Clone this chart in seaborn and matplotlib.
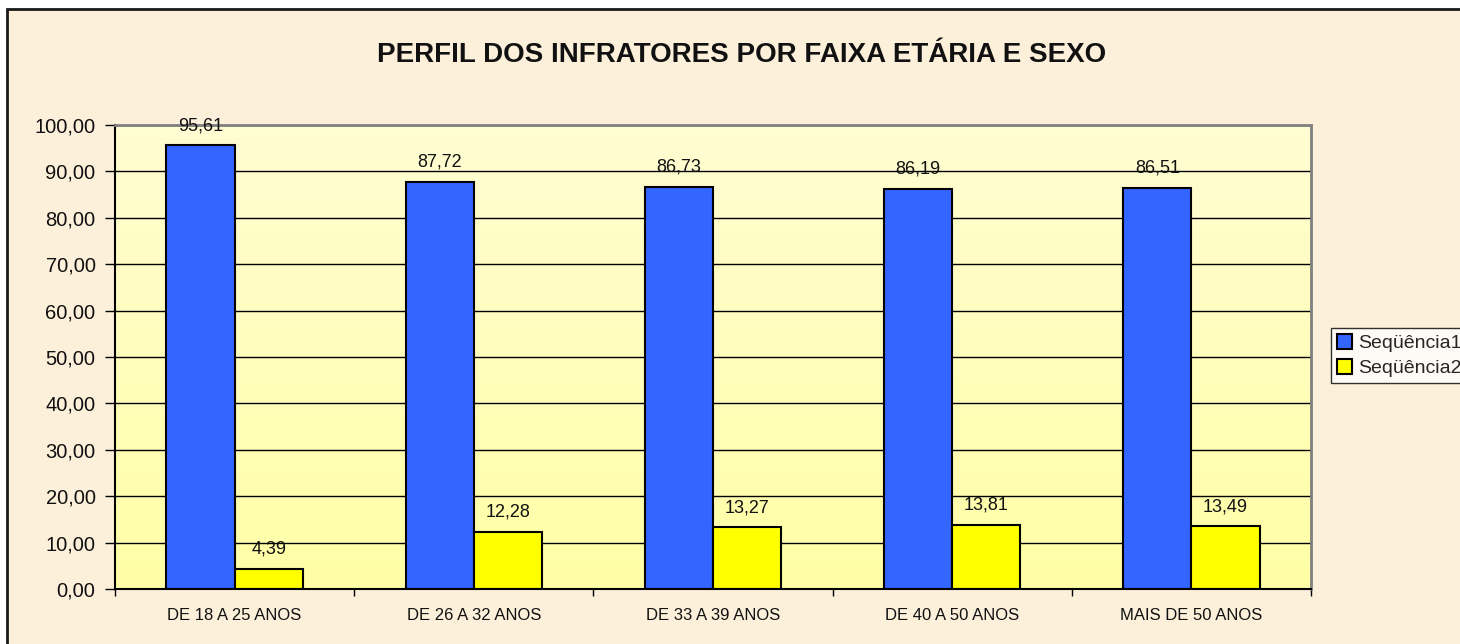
import numpy as np
import pandas as pd
import matplotlib
matplotlib.use('Agg')
import matplotlib.pyplot as plt
import seaborn as sns
from matplotlib.patches import Patch, Rectangle
from matplotlib.colors import LinearSegmentedColormap
from matplotlib.ticker import FuncFormatter, FixedLocator

# Dados do gráfico
faixas = ['DE 18 A 25 ANOS', 'DE 26 A 32 ANOS', 'DE 33 A 39 ANOS', 'DE 40 A 50 ANOS', 'MAIS DE 50 ANOS']
seq1 = [95.61, 87.72, 86.73, 86.19, 86.51]
seq2 = [4.39, 12.28, 13.27, 13.81, 13.49]
series = ['Seqüência1', 'Seqüência2']
cores = ['#3366FF', '#FFFF00']

df = pd.DataFrame({
    'faixa': faixas * 2,
    'valor': seq1 + seq2,
    'serie': [series[0]] * len(faixas) + [series[1]] * len(faixas),
})

def virgula(v, pos=None):
    return f'{v:.2f}'.replace('.', ',')

sns.set_style('white')
plt.rcParams['font.family'] = ['Liberation Sans', 'DejaVu Sans']

W, H = 1460, 644
fig = plt.figure(figsize=(W / 100, H / 100), dpi=100, facecolor='white')

# Fundo da área do gráfico com moldura
fig.patches.append(Rectangle((7 / W, -0.01), 1.0, 1 - 9 / H + 0.01, transform=fig.transFigure,
                             facecolor='#FCF0DA', edgecolor='#1a1a1a', linewidth=2, zorder=-5))

ax = fig.add_axes([115 / W, 1 - 589 / H, 1196 / W, 464 / H])

sns.barplot(data=df, x='faixa', y='valor', hue='serie', palette=cores, saturation=1,
            edgecolor='black', linewidth=1.5, width=0.57, errorbar=None,
            legend=False, ax=ax)

# Gradiente da área de plotagem
grad = LinearSegmentedColormap.from_list('amarelo', ['#FFFFA6', '#FFFDD2'])
ax.imshow(np.linspace(0, 1, 200).reshape(-1, 1), extent=(-0.5, 4.5, 0, 100),
          aspect='auto', cmap=grad, origin='lower', zorder=0)
ax.set_xlim(-0.5, 4.5)
ax.set_ylim(0, 100)

# Rótulos de valores
for cont, vals in zip(ax.containers, [seq1, seq2]):
    ax.bar_label(cont, labels=[virgula(v) for v in vals], padding=8, fontsize=13, color='#111111')

# Eixos
ax.set_yticks(np.arange(0, 101, 10))
ax.yaxis.set_major_formatter(FuncFormatter(virgula))
ax.yaxis.grid(True, color='black', linewidth=1)
ax.set_axisbelow(True)
ax.tick_params(axis='y', which='major', direction='out', length=7, width=1, pad=7,
               labelsize=14.5, left=True, colors='black', labelcolor='#111111')
ax.tick_params(axis='x', which='major', length=0, pad=14, labelsize=12, labelcolor='#111111')
ax.xaxis.set_minor_locator(FixedLocator(np.arange(-0.5, 5, 1)))
ax.tick_params(axis='x', which='minor', direction='out', length=5, width=1, bottom=True, colors='black')
ax.set_xlabel('')
ax.set_ylabel('')

for lado in ['left', 'bottom']:
    ax.spines[lado].set_color('black')
    ax.spines[lado].set_linewidth(1.5)
for lado in ['top', 'right']:
    ax.spines[lado].set_color('#808080')
    ax.spines[lado].set_linewidth(2)

# Título
fig.text(742 / W, 1 - 55 / H, 'PERFIL DOS INFRATORES POR FAIXA ETÁRIA E SEXO',
         ha='center', va='center', fontsize=20, fontweight='bold', color='#111111')

# Legenda
handles = [Patch(facecolor=c, edgecolor='black', linewidth=1.5) for c in cores]
leg = fig.legend(handles, series, loc='upper left', bbox_to_anchor=(1331 / W, 1 - 328 / H),
                 fontsize=14, frameon=True, fancybox=False, edgecolor='black',
                 handlelength=0.8, handleheight=0.8, handletextpad=0.3,
                 borderpad=0.3, labelspacing=0.35, borderaxespad=0)
leg.get_frame().set_facecolor('white')
leg.get_frame().set_linewidth(1)

fig.savefig('out.png', dpi=100)
